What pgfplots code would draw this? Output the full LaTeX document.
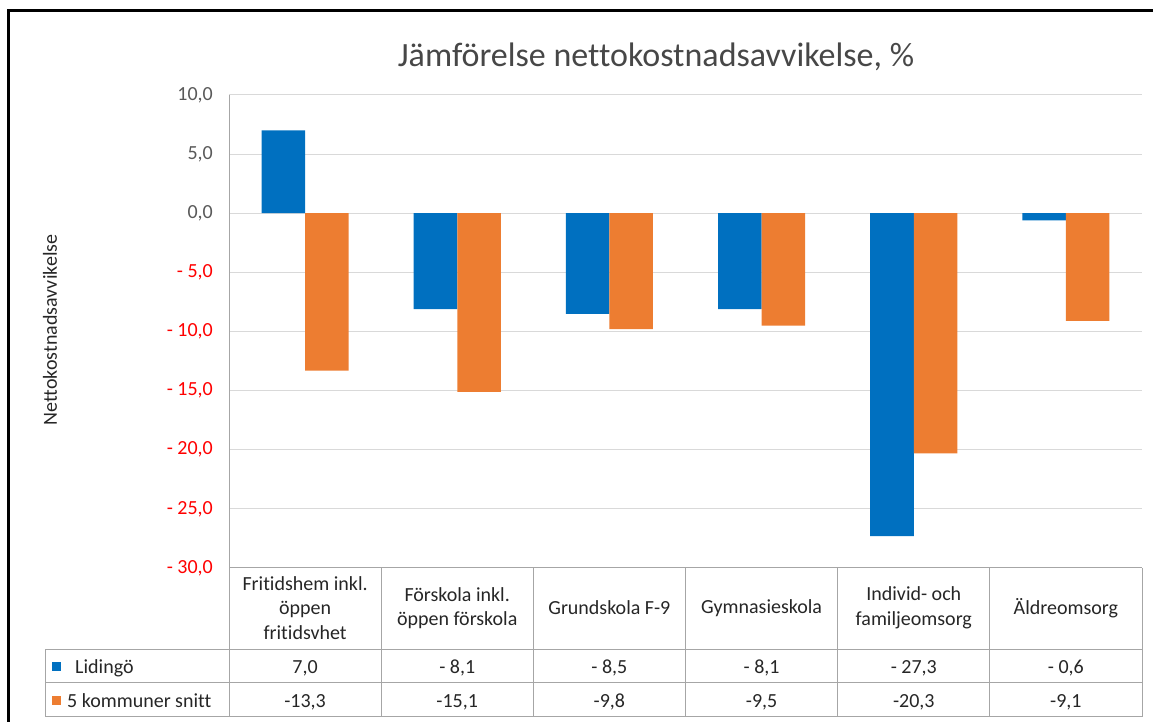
\documentclass[border=0pt]{standalone}
\usepackage{pgfplots}
\pgfplotsset{compat=1.18}
\usepackage{fontspec}
\setmainfont{Carlito}[Ligatures={NoCommon}]
\definecolor{cblue}{HTML}{0070C0}
\definecolor{corange}{HTML}{ED7D31}
\definecolor{tgray}{HTML}{595959}
\definecolor{lgray}{HTML}{D9D9D9}
\definecolor{bgray}{HTML}{A6A6A6}
\definecolor{txt}{HTML}{262626}
\begin{document}
\begin{tikzpicture}[x=1pt,y=1pt]
\useasboundingbox (0,0) rectangle (1153,722);
\begin{axis}[
  at={(229pt,154pt)}, anchor=south west,
  scale only axis, width=913pt, height=473pt,
  xmin=0.5, xmax=6.5, ymin=-30, ymax=10,
  axis x line=none, axis y line*=left,
  y axis line style={draw=bgray, line width=1pt, -},
  xtick=\empty,
  ytick={-30,-25,-20,-15,-10,-5,0,5,10},
  yticklabels={{\textcolor{red}{- 30,0}},{\textcolor{red}{- 25,0}},{\textcolor{red}{- 20,0}},{\textcolor{red}{- 15,0}},{\textcolor{red}{- 10,0}},{\textcolor{red}{- 5,0}},{0,0},{5,0},{10,0}},
  ymajorgrids, major grid style={draw=lgray, line width=1pt},
  major tick length=0pt,
  yticklabel style={font=\fontsize{20}{24}\selectfont, text=tgray, anchor=east, inner sep=0pt, xshift=-16pt},
  ybar, bar width=0.286,
  clip=false,
]
\addplot[fill=cblue, draw=none, bar shift=-0.143] coordinates {(1,7.0) (2,-8.1) (3,-8.5) (4,-8.1) (5,-27.3) (6,-0.6)};
\addplot[fill=corange, draw=none, bar shift=0.143] coordinates {(1,-13.3) (2,-15.1) (3,-9.8) (4,-9.5) (5,-20.3) (6,-9.1)};
\end{axis}
% frame
\draw[black, line width=3pt] (8.5,0) -- (8.5,711) -- (1153,711);
% title
\node[anchor=base, inner sep=0pt, font=\fontsize{34}{40}\selectfont, text=txt!85] at (656,655) {Jämförelse nettokostnadsavvikelse, \%};
% y label
\node[rotate=90, inner sep=0pt, font=\fontsize{20}{24}\selectfont, text=txt] at (50,392) {Nettokostnadsavvikelse};
% table
\draw[bgray, line width=1pt] (229,154) -- (1142,154);
\draw[bgray, line width=1pt] (45,72) -- (1142,72);
\draw[bgray, line width=1pt] (45,39) -- (1142,39);
\draw[bgray, line width=1pt] (45,5) -- (1142,5);
\draw[bgray, line width=1pt] (45,72) -- (45,5);
\foreach \xx in {229,381.17,533.33,685.5,837.67,989.83,1142} {
  \draw[bgray, line width=1pt] (\xx,154) -- (\xx,5);
}
\tikzset{hdr/.style={align=center, inner sep=0pt, font=\fontsize{20}{24.5}\selectfont, text=txt}}
\node[hdr] at (305.1,114) {Fritidshem inkl.\\öppen\\fritidsvhet};
\node[hdr] at (457.2,114) {Förskola inkl.\\öppen förskola};
\node[hdr] at (609.4,114) {Grundskola F-9};
\node[hdr] at (761.6,114) {Gymnasieskola};
\node[hdr] at (913.8,114) {Individ- och\\familjeomsorg};
\node[hdr] at (1065.9,114) {Äldreomsorg};
\tikzset{val/.style={anchor=base, inner sep=0pt, font=\fontsize{20}{24}\selectfont, text=txt}}
\foreach \xx/\vv in {305.1/{7,0},457.2/{- 8,1},609.4/{- 8,5},761.6/{- 8,1},913.8/{- 27,3},1065.9/{- 0,6}} {
  \node[val] at (\xx,48) {\vv};
}
\foreach \xx/\vv in {305.1/{-13,3},457.2/{-15,1},609.4/{-9,8},761.6/{-9,5},913.8/{-20,3},1065.9/{-9,1}} {
  \node[val] at (\xx,14) {\vv};
}
\fill[cblue] (52,51) rectangle (61,60);
\fill[corange] (52,17) rectangle (61,26);
\node[anchor=base west, inner sep=0pt, font=\fontsize{20}{24}\selectfont, text=txt] at (75,48) {Lidingö};
\node[anchor=base west, inner sep=0pt, font=\fontsize{20}{24}\selectfont, text=txt] at (67,14) {5 kommuner snitt};
\end{tikzpicture}
\end{document}
